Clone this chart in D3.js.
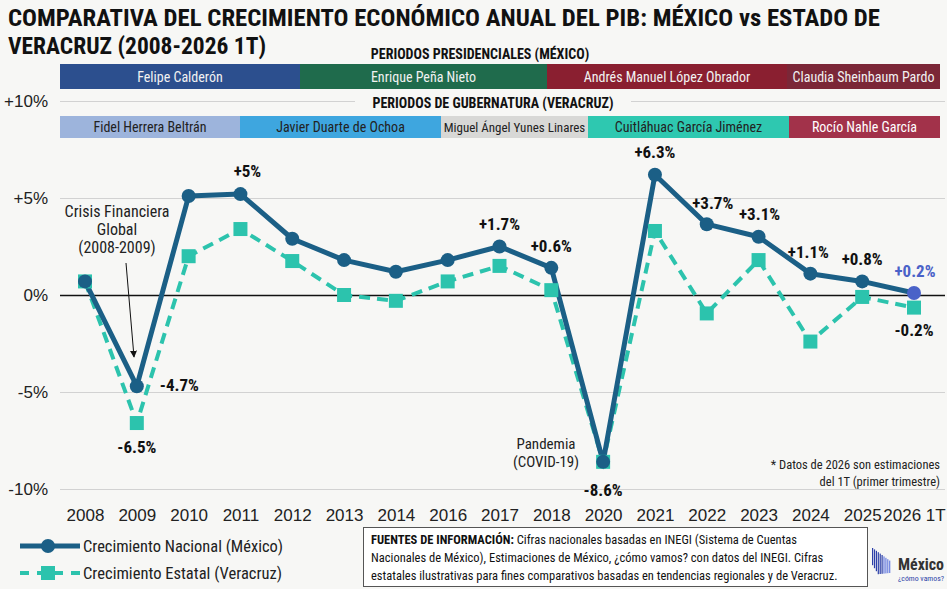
<!DOCTYPE html>
<html>
<head>
<meta charset="utf-8">
<script src="https://cdn.jsdelivr.net/npm/d3@7"></script>
<style>
  body { margin: 0; background: #f7f7f5; }
  svg { display: block; font-family: "Liberation Sans Narrow", "Roboto Condensed", "DejaVu Sans Condensed", sans-serif; }
</style>
</head>
<body>
<div id="chart"></div>
<script>
// data
var years = ["2008","2009","2010","2011","2012","2013","2014","2016","2017","2018","2020","2021","2022","2023","2024","2025","2026 1T"];
var nacional = [0.7, -4.7, 5.1, 5.2, 2.9, 1.8, 1.2, 1.8, 2.5, 1.4, -8.6, 6.2, 3.65, 3.0, 1.1, 0.7, 0.1];
var estatal  = [0.7, -6.6, 2.0, 3.4, 1.75, 0.0, -0.3, 0.7, 1.5, 0.25, -8.6, 3.3, -0.95, 1.8, -2.4, -0.1, -0.65];
var yTicks = [10, 5, 0, -5, -10];
var yTickLabels = ["+10%", "+5%", "0%", "-5%", "-10%"];

var presidentes = ["Felipe Calderón", "Enrique Peña Nieto", "Andrés Manuel López Obrador", "Claudia Sheinbaum Pardo"];
var gobernadores = ["Fidel Herrera Beltrán", "Javier Duarte de Ochoa", "Miguel Ángel Yunes Linares", "Cuitláhuac García Jiménez", "Rocío Nahle García"];

// value labels: [year, text]
var labelsNac = [["2009","-4.7%"],["2011","+5%"],["2017","+1.7%"],["2018","+0.6%"],["2020","-8.6%"],["2021","+6.3%"],["2022","+3.7%"],["2023","+3.1%"],["2024","+1.1%"],["2025","+0.8%"],["2026 1T","+0.2%"]];
var labelsEst = [["2009","-6.5%"],["2026 1T","-0.2%"]];

// layout
var W = 947, H = 589;
var presEdges = [60, 300, 547, 787, 940];
var presColors = ["#2c4f8e", "#1f6b4c", "#8a1f30", "#7b2737"];
var gobEdges = [60, 240, 441, 588, 789, 940];
var gobColors = ["#9db4dc", "#3ea6df", "#d8d8d6", "#2ec8b0", "#a2324a"];
var gobText = ["#222", "#222", "#222", "#222", "#fff"];

var cNac = "#1b5f86", cEst = "#2cc3ad", cLast = "#4a62c8";

var svg = d3.select("#chart").append("svg")
    .attr("width", W).attr("height", H);
svg.append("rect").attr("width", W).attr("height", H).attr("fill", "#f7f7f5");

var x = d3.scalePoint().domain(years).range([85, 914]);
var y = d3.scaleLinear().domain([-10, 10]).range([489, 101]);

//Title
var title = svg.append("g").attr("font-weight", "bold").attr("fill", "#111").style("font-size", "24px");
title.append("text").attr("x", 8).attr("y", 26).attr("textLength", 872).attr("lengthAdjust", "spacingAndGlyphs")
    .text("COMPARATIVA DEL CRECIMIENTO ECONÓMICO ANUAL DEL PIB: MÉXICO vs ESTADO DE");
title.append("text").attr("x", 8).attr("y", 54).attr("textLength", 258).attr("lengthAdjust", "spacingAndGlyphs")
    .text("VERACRUZ (2008-2026 1T)");

// Y grid + axis
var yAxis = svg.append("g")
    .attr("transform", "translate(60,0)")
    .call(d3.axisLeft(y).tickValues(yTicks).tickSize(-885).tickPadding(12)
        .tickFormat(function (d, i) { return yTickLabels[i]; }));
yAxis.select(".domain").remove();
yAxis.selectAll("line").attr("stroke", function (d) { return d === 0 ? "#111" : "#d2d2d2"; })
    .attr("stroke-width", function (d) { return d === 0 ? 1.5 : 1.2; });
yAxis.selectAll("text").style("font-size", "17px").attr("fill", "#222");

// Presidential periods
svg.append("text").attr("x", 480).attr("y", 59).attr("text-anchor", "middle")
    .attr("font-weight", "bold").style("font-size", "14px").attr("fill", "#111")
    .text("PERIODOS PRESIDENCIALES (MÉXICO)");
var pres = svg.append("g").selectAll("g").data(presidentes).enter().append("g");
pres.append("rect")
    .attr("x", function (d, i) { return presEdges[i]; })
    .attr("width", function (d, i) { return presEdges[i + 1] - presEdges[i]; })
    .attr("y", 64).attr("height", 25)
    .attr("fill", function (d, i) { return presColors[i]; });
pres.append("text")
    .attr("x", function (d, i) { return (presEdges[i] + presEdges[i + 1]) / 2; })
    .attr("y", 82).attr("text-anchor", "middle")
    .style("font-size", "14px").attr("fill", "#f2f2f2")
    .text(function (d) { return d; });

// Governor periods
svg.append("rect").attr("x", 355).attr("y", 93).attr("width", 276).attr("height", 18).attr("fill", "#f7f7f5");
svg.append("text").attr("x", 493).attr("y", 108).attr("text-anchor", "middle")
    .attr("font-weight", "bold").style("font-size", "14px").attr("fill", "#111")
    .text("PERIODOS DE GUBERNATURA (VERACRUZ)");
var gob = svg.append("g").selectAll("g").data(gobernadores).enter().append("g");
gob.append("rect")
    .attr("x", function (d, i) { return gobEdges[i]; })
    .attr("width", function (d, i) { return gobEdges[i + 1] - gobEdges[i]; })
    .attr("y", 116).attr("height", 22)
    .attr("fill", function (d, i) { return gobColors[i]; });
gob.append("text")
    .attr("x", function (d, i) { return (gobEdges[i] + gobEdges[i + 1]) / 2; })
    .attr("y", 132).attr("text-anchor", "middle")
    .style("font-size", function (d, i) { return i === 2 ? "13px" : "14px"; })
    .attr("fill", function (d, i) { return gobText[i]; })
    .text(function (d) { return d; });

// X axis
var xAxis = svg.append("g")
    .attr("transform", "translate(0,500)")
    .call(d3.axisBottom(x).tickSize(0).tickPadding(9));
xAxis.select(".domain").remove();
xAxis.selectAll("text").style("font-size", "17px").attr("fill", "#222");

// Lines
var lineGen = d3.line().x(function (d, i) { return x(years[i]); }).y(function (d) { return y(d); });

svg.append("path").datum(estatal).attr("d", lineGen)
    .attr("fill", "none").attr("stroke", cEst).attr("stroke-width", 4)
    .attr("stroke-dasharray", "11,7");
svg.append("path").datum(nacional).attr("d", lineGen)
    .attr("fill", "none").attr("stroke", cNac).attr("stroke-width", 5)
    .attr("stroke-linejoin", "round");

svg.selectAll(".sq").data(estatal).enter().append("rect")
    .attr("x", function (d, i) { return x(years[i]) - 7; })
    .attr("y", function (d) { return y(d) - 7; })
    .attr("width", 14).attr("height", 14)
    .attr("fill", cEst);

svg.selectAll(".dot").data(nacional).enter().append("circle")
    .attr("cx", function (d, i) { return x(years[i]); })
    .attr("cy", function (d) { return y(d); })
    .attr("r", 7)
    .attr("fill", function (d, i) { return i === years.length - 1 ? cLast : cNac; });

// value labels
var offNac = {
    "2009": [23, 5], "2011": [7, -17], "2017": [0, -17], "2018": [0, -16], "2020": [0, 34],
    "2021": [0, -17], "2022": [6, -15], "2023": [1, -17], "2024": [-2, -16], "2025": [0, -16], "2026 1T": [1, -16]
};
svg.selectAll(".lblN").data(labelsNac).enter().append("text")
    .attr("x", function (d) { return x(d[0]) + offNac[d[0]][0]; })
    .attr("y", function (d) { var i = years.indexOf(d[0]); return y(nacional[i]) + offNac[d[0]][1]; })
    .attr("text-anchor", function (d) { return d[0] === "2009" ? "start" : "middle"; })
    .attr("font-weight", "bold").style("font-size", "17px")
    .attr("fill", function (d) { return d[0] === "2026 1T" ? cLast : "#111"; })
    .text(function (d) { return d[1]; });
svg.append("g").selectAll("text").data(labelsEst).enter().append("text")
    .attr("x", function (d) { return x(d[0]); })
    .attr("y", function (d) { var i = years.indexOf(d[0]); return y(estatal[i]) + (d[0] === "2009" ? 30 : 28); })
    .attr("text-anchor", "middle")
    .attr("font-weight", "bold").style("font-size", "17px").attr("fill", "#111")
    .text(function (d) { return d[1]; });

// annotations
svg.append("defs").append("marker").attr("id", "arr").attr("viewBox", "0 0 10 10")
    .attr("refX", 9).attr("refY", 5).attr("markerWidth", 7).attr("markerHeight", 7).attr("orient", "auto")
    .append("path").attr("d", "M0,0L10,5L0,10z").attr("fill", "#111");
var crisis = svg.append("text").attr("text-anchor", "middle").style("font-size", "16px").attr("fill", "#222");
["Crisis Financiera", "Global", "(2008-2009)"].forEach(function (t, i) {
    crisis.append("tspan").attr("x", 117).attr("y", 217 + i * 18).text(t);
});
svg.append("line").attr("x1", 126).attr("y1", 263).attr("x2", 134).attr("y2", 357)
    .attr("stroke", "#111").attr("stroke-width", 1).attr("marker-end", "url(#arr)");

var pand = svg.append("text").attr("text-anchor", "middle").style("font-size", "15px").attr("fill", "#222");
["Pandemia", "(COVID-19)"].forEach(function (t, i) {
    pand.append("tspan").attr("x", 546).attr("y", 449 + i * 18).text(t);
});

var nota = svg.append("text").attr("text-anchor", "end").style("font-size", "12.5px").attr("fill", "#222");
nota.append("tspan").attr("x", 940).attr("y", 469).text("* Datos de 2026 son estimaciones");
nota.append("tspan").attr("x", 940).attr("y", 486).text("del 1T (primer trimestre)");

// legend
var leg = svg.append("g");
leg.append("line").attr("x1", 20).attr("x2", 80).attr("y1", 546).attr("y2", 546)
    .attr("stroke", cNac).attr("stroke-width", 5);
leg.append("circle").attr("cx", 48).attr("cy", 546).attr("r", 7).attr("fill", cNac);
leg.append("text").attr("x", 83).attr("y", 552).style("font-size", "17px").attr("fill", "#222")
    .attr("textLength", 200).attr("lengthAdjust", "spacingAndGlyphs")
    .text("Crecimiento Nacional (México)");
leg.append("line").attr("x1", 20).attr("x2", 80).attr("y1", 573).attr("y2", 573)
    .attr("stroke", cEst).attr("stroke-width", 4).attr("stroke-dasharray", "9,8");
leg.append("rect").attr("x", 41).attr("y", 566).attr("width", 14).attr("height", 14).attr("fill", cEst);
leg.append("text").attr("x", 83).attr("y", 579).style("font-size", "17px").attr("fill", "#222")
    .attr("textLength", 199).attr("lengthAdjust", "spacingAndGlyphs")
    .text("Crecimiento Estatal (Veracruz)");

// sources box
svg.append("rect").attr("x", 363.5).attr("y", 527.5).attr("width", 504).attr("height", 59)
    .attr("fill", "#fff").attr("stroke", "#555").attr("stroke-width", 1);
var src = svg.append("text").style("font-size", "12.5px").attr("fill", "#111");
var l1 = src.append("tspan").attr("x", 371).attr("y", 544);
l1.append("tspan").attr("font-weight", "bold").text("FUENTES DE INFORMACIÓN: ");
l1.append("tspan").text("Cifras nacionales basadas en INEGI (Sistema de Cuentas");
src.append("tspan").attr("x", 371).attr("y", 562)
    .text("Nacionales de México), Estimaciones de México, ¿cómo vamos? con datos del INEGI. Cifras");
src.append("tspan").attr("x", 371).attr("y", 580)
    .text("estatales ilustrativas para fines comparativos basadas en tendencias regionales y de Veracruz.");

// logo
var logo = svg.append("g").attr("transform", "translate(872,548)");
d3.range(10).forEach(function (i) {
    logo.append("rect").attr("x", i * 1.9).attr("y", i * 1.4).attr("width", 1.2)
        .attr("height", 22 - Math.abs(i - 3) * 1.6).attr("fill", i < 6 ? "#2b3fa8" : "#6a7fe0");
});
logo.append("text").attr("x", 26).attr("y", 22).attr("font-weight", "bold")
    .style("font-size", "16px").attr("fill", "#333")
    .attr("textLength", 46).attr("lengthAdjust", "spacingAndGlyphs").text("México");
logo.append("text").attr("x", 26).attr("y", 33).style("font-size", "8px").attr("fill", "#2b3fa8")
    .attr("textLength", 46).attr("lengthAdjust", "spacingAndGlyphs").text("¿cómo vamos?");
</script>
</body>
</html>
